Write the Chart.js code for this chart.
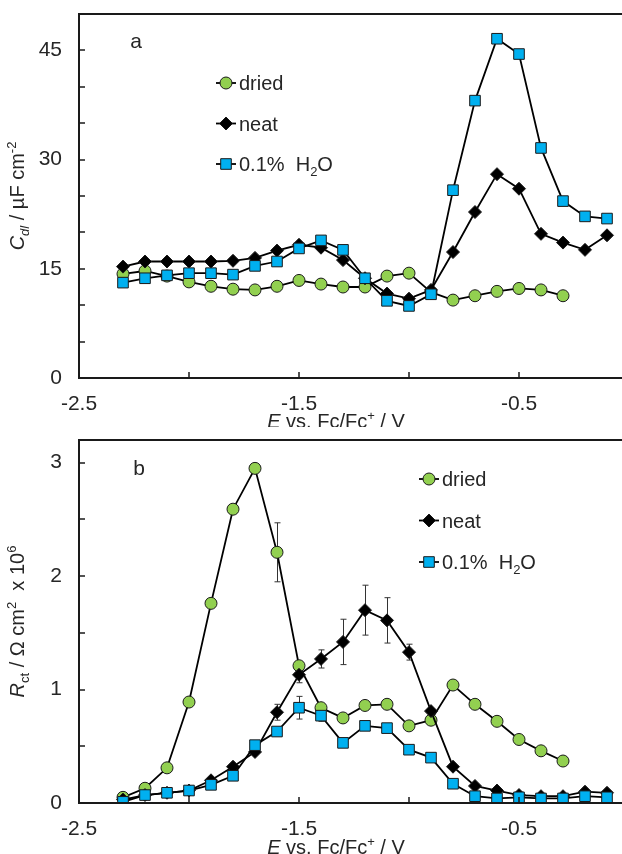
<!DOCTYPE html>
<html>
<head>
<meta charset="utf-8">
<script src="https://cdn.jsdelivr.net/npm/chart.js@4/dist/chart.umd.min.js"></script>
<style>
html, body { margin: 0; padding: 0; background: #fff; overflow: hidden; width: 622px; height: 854px; }
canvas { position: absolute; left: 0; }
#ca { top: 0; }
#cb { top: 427px; }
</style>
</head>
<body>
<canvas id="ca" width="640" height="427"></canvas>
<canvas id="cb" width="640" height="427"></canvas>
<script>
// potentials (V vs Fc/Fc+)
var xs = [-2.3, -2.2, -2.1, -2.0, -1.9, -1.8, -1.7, -1.6, -1.5, -1.4, -1.3, -1.2,
          -1.1, -1.0, -0.9, -0.8, -0.7, -0.6, -0.5, -0.4, -0.3, -0.2, -0.1];

// panel a: Cdl / uF cm-2
var cdlDried = [14.3, 14.7, 14.0, 13.2, 12.6, 12.2, 12.1, 12.6, 13.4, 12.9, 12.5, 12.5,
                14.0, 14.4, 11.8, 10.7, 11.3, 11.9, 12.3, 12.1, 11.3];
var cdlNeat = [15.3, 16.0, 16.0, 16.0, 16.0, 16.1, 16.5, 17.5, 18.3, 17.9, 16.2, 13.7,
               11.6, 10.9, 12.1, 17.3, 22.8, 28.0, 26.0, 19.8, 18.6, 17.6, 19.6];
var cdlWater = [13.1, 13.7, 14.1, 14.4, 14.4, 14.2, 15.4, 16.0, 17.8, 18.9, 17.6, 13.7,
                10.6, 9.9, 11.5, 25.8, 38.1, 46.6, 44.5, 31.6, 24.3, 22.2, 21.9];

// panel b: Rct / Ohm cm2 x 10^6
var rctDried = [0.05, 0.13, 0.31, 0.89, 1.76, 2.59, 2.95, 2.21, 1.21, 0.84, 0.75, 0.86,
                0.87, 0.68, 0.73, 1.04, 0.87, 0.72, 0.56, 0.46, 0.37];
var rctNeat = [0.03, 0.07, 0.09, 0.11, 0.20, 0.32, 0.45, 0.80, 1.13, 1.27, 1.42, 1.70,
               1.61, 1.33, 0.81, 0.32, 0.15, 0.11, 0.07, 0.06, 0.06, 0.10, 0.09];
var rctWater = [0.01, 0.07, 0.09, 0.11, 0.16, 0.24, 0.51, 0.63, 0.84, 0.77, 0.53, 0.68,
                0.66, 0.47, 0.40, 0.17, 0.06, 0.04, 0.05, 0.04, 0.04, 0.06, 0.05];

// error bars (panel b)
var rctDriedErr = [0, 0, 0, 0, 0, 0, 0, 0.26];
var rctNeatErr = [0, 0, 0, 0, 0, 0, 0, 0.07, 0.07, 0.08, 0.20, 0.22, 0.20, 0.07];
var rctWaterErr = [0, 0, 0, 0, 0, 0, 0, 0, 0.10, 0.05];

var xTickLabels = ['-2.5', '-1.5', '-0.5'];
var yTickLabelsA = [0, 15, 30, 45];
var yTickLabelsB = [0, 1, 2, 3];

var FONT = "'Liberation Sans', Arial, sans-serif";
var TXT = '#262626';
var GREEN = '#92D050';
var BLUE = '#00B0F0';

function fontStr(size, italic) {
  return (italic ? 'italic ' : '') + size + 'px ' + FONT;
}

function partSize(p, size) {
  return (p.sub || p.sup) ? Math.round(size * 0.65) : size;
}

function richWidth(ctx, parts, size) {
  var w = 0;
  parts.forEach(function (p) {
    ctx.font = fontStr(partSize(p, size), p.i);
    w += ctx.measureText(p.t).width;
  });
  return w;
}

// draw text with italic / sub / sup pieces; cy is the visual middle
function drawRich(ctx, parts, x, cy, size, align) {
  if (align !== 'left') x -= richWidth(ctx, parts, size) / 2;
  ctx.textAlign = 'left';
  ctx.textBaseline = 'alphabetic';
  ctx.fillStyle = TXT;
  var base = cy + size * 0.36;
  parts.forEach(function (p) {
    ctx.font = fontStr(partSize(p, size), p.i);
    var dy = p.sub ? size * 0.22 : (p.sup ? -size * 0.4 : 0);
    ctx.fillText(p.t, x, base + dy);
    x += ctx.measureText(p.t).width;
  });
}

function marker(ctx, style, x, y, r, fill) {
  ctx.beginPath();
  if (style === 'circle') {
    ctx.arc(x, y, r, 0, Math.PI * 2);
  } else if (style === 'rect') {
    var s = r * Math.SQRT1_2;
    ctx.rect(x - s, y - s, 2 * s, 2 * s);
  } else {
    ctx.moveTo(x, y - r); ctx.lineTo(x + r, y); ctx.lineTo(x, y + r); ctx.lineTo(x - r, y);
    ctx.closePath();
  }
  ctx.fillStyle = fill;
  ctx.fill();
  ctx.lineWidth = 1;
  ctx.strokeStyle = '#1a1a1a';
  ctx.stroke();
}

var legendText = [
  [{t: 'dried'}],
  [{t: 'neat'}],
  [{t: '0.1%  H'}, {t: '2', sub: true}, {t: 'O'}]
];

var xTitle = [{t: 'E', i: true}, {t: ' vs. Fc/Fc'}, {t: '+', sup: true}, {t: ' / V'}];

var decor = {
  id: 'decor',
  beforeDatasetsDraw: function (chart, args, o) {
    var ctx = chart.ctx, sx = chart.scales.x, sy = chart.scales.y;
    ctx.save();
    ctx.strokeStyle = '#333';
    ctx.lineWidth = 1;
    chart.data.datasets.forEach(function (ds, i) {
      var err = o.errors[i];
      if (!err) return;
      ds.data.forEach(function (pt, j) {
        var e = err[j];
        if (!e) return;
        var px = Math.round(sx.getPixelForValue(pt.x)) + 0.5;
        var y1 = sy.getPixelForValue(pt.y + e), y2 = sy.getPixelForValue(pt.y - e);
        ctx.beginPath();
        ctx.moveTo(px, y1); ctx.lineTo(px, y2);
        ctx.moveTo(px - 3, y1); ctx.lineTo(px + 3, y1);
        ctx.moveTo(px - 3, y2); ctx.lineTo(px + 3, y2);
        ctx.stroke();
      });
    });
    ctx.restore();
  },
  afterDraw: function (chart, args, o) {
    var ctx = chart.ctx, a = chart.chartArea;
    var sx = chart.scales.x, sy = chart.scales.y;
    ctx.save();
    // frame + inward ticks
    ctx.strokeStyle = '#1a1a1a';
    ctx.lineWidth = 2;
    ctx.strokeRect(a.left, a.top, a.right - a.left, a.bottom - a.top);
    ctx.lineWidth = 1.5;
    ctx.beginPath();
    sx.ticks.forEach(function (t) {
      var px = Math.round(sx.getPixelForValue(t.value));
      ctx.moveTo(px, a.bottom); ctx.lineTo(px, a.bottom - 6);
    });
    sy.ticks.forEach(function (t) {
      var py = Math.round(sy.getPixelForValue(t.value));
      ctx.moveTo(a.left, py); ctx.lineTo(a.left + 6, py);
    });
    ctx.stroke();

    // panel letter
    ctx.font = fontStr(21, false);
    ctx.fillStyle = TXT;
    ctx.textAlign = 'center';
    ctx.textBaseline = 'middle';
    ctx.fillText(o.letter, o.letterX, o.letterY);

    // legend
    chart.data.datasets.forEach(function (ds, i) {
      var y = o.legendY + i * o.legendGap;
      ctx.strokeStyle = '#000';
      ctx.lineWidth = 1.8;
      ctx.beginPath();
      ctx.moveTo(o.legendX - 10, y); ctx.lineTo(o.legendX + 10, y);
      ctx.stroke();
      marker(ctx, ds.pointStyle, o.legendX, y, ds.pointRadius, ds.pointBackgroundColor);
      drawRich(ctx, legendText[i], o.legendX + 13, y, 20, 'left');
    });

    // axis titles
    drawRich(ctx, xTitle, a.left + 257, o.xTitleY, 20);
    ctx.translate(17, (a.top + a.bottom) / 2);
    ctx.rotate(-Math.PI / 2);
    drawRich(ctx, o.yTitle, 0, 0, 20);
    ctx.restore();
  }
};

function series(ys, label, style, radius, color, order) {
  return {
    label: label,
    data: ys.map(function (v, k) { return {x: xs[k], y: v}; }),
    borderColor: '#000',
    borderWidth: 1.8,
    pointStyle: style,
    pointRadius: radius,
    pointBackgroundColor: color,
    pointBorderColor: '#1a1a1a',
    pointBorderWidth: 1,
    order: order,
    tension: 0
  };
}

function makeChart(id, sets, cfg) {
  return new Chart(document.getElementById(id), {
    type: 'line',
    data: {
      datasets: [
        series(sets[0], 'dried', 'circle', 6, GREEN, 3),
        series(sets[1], 'neat', 'rectRot', 6.5, '#000', 2),
        series(sets[2], '0.1% H2O', 'rect', 7.5, BLUE, 1)
      ]
    },
    options: {
      responsive: false,
      animation: false,
      devicePixelRatio: 1,
      layout: {padding: {top: cfg.top, right: 11, left: 0, bottom: 0}},
      plugins: {
        legend: {display: false},
        tooltip: {enabled: false},
        decor: cfg.decor
      },
      scales: {
        x: {
          type: 'linear', min: -2.5, max: 0,
          afterFit: function (s) {
            s.height = cfg.xh;
            s.paddingLeft = 0; s.paddingRight = 0;
          },
          grid: {display: false, drawTicks: false},
          border: {display: false},
          ticks: {
            stepSize: 0.5, padding: 14, autoSkip: false, maxRotation: 0,
            color: TXT, font: {family: FONT, size: 21},
            callback: function (v) {
              var s = v.toFixed(1);
              return xTickLabels.indexOf(s) >= 0 ? s : '';
            }
          }
        },
        y: {
          type: 'linear', min: 0, max: cfg.ymax,
          afterFit: function (s) {
            s.width = 79;
            s.paddingTop = 0; s.paddingBottom = 0;
          },
          grid: {display: false, drawTicks: false},
          border: {display: false},
          ticks: {
            stepSize: cfg.step, padding: 17, autoSkip: false, includeBounds: false,
            color: TXT, font: {family: FONT, size: 21},
            callback: function (v) {
              var r = Math.round(v);
              return (Math.abs(v - r) < 1e-6 && cfg.labels.indexOf(r) >= 0) ? String(r) : '';
            }
          }
        }
      }
    },
    plugins: [decor]
  });
}

makeChart('ca', [cdlDried, cdlNeat, cdlWater], {
  top: 14, xh: 49, ymax: 50, step: 5, labels: yTickLabelsA,
  decor: {
    letter: 'a', letterX: 136, letterY: 42,
    legendX: 226, legendY: 83, legendGap: 40.5,
    xTitleY: 421,
    yTitle: [{t: 'C', i: true}, {t: 'dl', i: true, sub: true}, {t: ' / µF cm'}, {t: '-2', sup: true}],
    errors: []
  }
});

makeChart('cb', [rctDried, rctNeat, rctWater], {
  top: 13, xh: 51, ymax: 3.2, step: 0.5, labels: yTickLabelsB,
  decor: {
    letter: 'b', letterX: 139, letterY: 42,
    legendX: 429, legendY: 52, legendGap: 41.5,
    xTitleY: 420,
    yTitle: [{t: 'R', i: true}, {t: 'ct', sub: true}, {t: ' / Ω cm'}, {t: '2', sup: true}, {t: '  x 10'}, {t: '6', sup: true}],
    errors: [rctDriedErr, rctNeatErr, rctWaterErr]
  }
});
</script>
</body>
</html>
